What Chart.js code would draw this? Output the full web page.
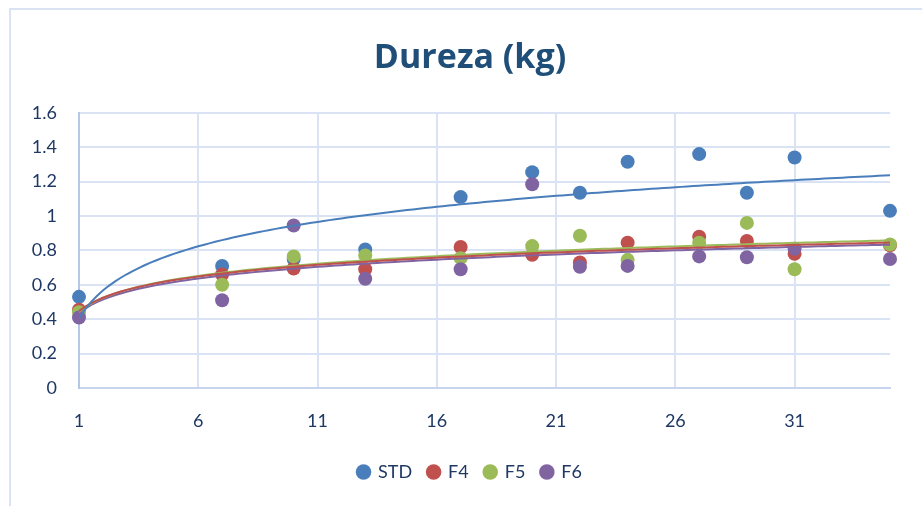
<!DOCTYPE html>
<html>
<head>
<meta charset="utf-8">
<script src="https://cdn.jsdelivr.net/npm/chart.js@4.4.1/dist/chart.umd.min.js"></script>
<style>
    html, body { margin: 0; padding: 0; background: #fff; overflow: hidden; }
    #frame {
        position: absolute; left: 9px; top: 8px; width: 1000px; height: 600px;
        border: 2px solid #d9e3f3;
    }
    #wrap { position: absolute; left: 0; top: 0; width: 922px; height: 506px; }
</style>
</head>
<body>
<div id="frame"></div>
<div id="wrap"><canvas id="durChart"></canvas></div>
<script>
/* ============================================
   DATA
============================================ */
const days = [1, 7, 10, 13, 17, 20, 22, 24, 27, 29, 31, 35];
const std = [0.53, 0.71, 0.75, 0.805, 1.11, 1.255, 1.135, 1.315, 1.36, 1.135, 1.34, 1.03];
const f4  = [0.455, 0.66, 0.695, 0.69, 0.82, 0.775, 0.73, 0.845, 0.88, 0.855, 0.78, 0.83];
const f5  = [0.44, 0.60, 0.765, 0.77, 0.755, 0.825, 0.885, 0.745, 0.845, 0.96, 0.69, 0.835];
const f6  = [0.41, 0.51, 0.945, 0.635, 0.69, 1.185, 0.705, 0.71, 0.765, 0.76, 0.81, 0.75];
const xTicks = [1, 6, 11, 16, 21, 26, 31];
const yTicks = [0, 0.2, 0.4, 0.6, 0.8, 1, 1.2, 1.4, 1.6];

const seriesNames = ['STD', 'F4', 'F5', 'F6'];
const seriesVals = [std, f4, f5, f6];
const colors = ['#4a7ebb', '#c0504d', '#9bbb59', '#8064a2'];

/* ============================================
   LOG TRENDLINE (y = a ln x + b)
============================================ */
function logFit(xs, ys) {
    const n = xs.length;
    let sx = 0, sy = 0, sxx = 0, sxy = 0;
    xs.forEach((x, i) => {
        const lx = Math.log(x);
        sx += lx; sy += ys[i]; sxx += lx * lx; sxy += lx * ys[i];
    });
    const a = (n * sxy - sx * sy) / (n * sxx - sx * sx);
    const b = (sy - a * sx) / n;
    const pts = [];
    for (let x = days[0]; x <= days[days.length - 1] + 1e-9; x += 0.25) {
        pts.push({ x: x, y: a * Math.log(x) + b });
    }
    return pts;
}

// title + legend are centred on the whole frame, not just the plot
const shiftBoxes = {
    id: 'shiftBoxes',
    afterLayout(chart) {
        [chart.titleBlock, chart.legend].forEach(b => {
            if (!b) return;
            b.left += 25;
            b.right += 25;
        });
    }
};

/* ============================================
   CHART
============================================ */
function initChart() {
    const axisFont = { family: "Lato, 'Open Sans', sans-serif", size: 18 };
    const txt = '#1f3864';

    const datasets = [];
    seriesVals.forEach((vals, i) => {
        datasets.push({
            label: seriesNames[i],
            data: days.map((d, j) => ({ x: d, y: vals[j] })),
            backgroundColor: colors[i],
            borderColor: colors[i],
            pointRadius: 7,
            pointHoverRadius: 7,
            pointBorderWidth: 0,
            showLine: false,
            clip: false,
            order: 5 - i
        });
    });
    seriesVals.forEach((vals, i) => {
        datasets.push({
            label: 'trend',
            data: logFit(days, vals),
            borderColor: colors[i],
            borderWidth: 2,
            pointRadius: 0,
            showLine: true,
            fill: false,
            tension: 0,
            order: 0
        });
    });

    new Chart(document.getElementById('durChart').getContext('2d'), {
        type: 'scatter',
        data: { datasets },
        plugins: [shiftBoxes],
        options: {
            responsive: true,
            maintainAspectRatio: false,
            animation: false,
            layout: { padding: { left: 0, right: 32, top: 0, bottom: 15 } },
            plugins: {
                title: {
                    display: true,
                    text: 'Dureza (kg)',
                    color: '#1f4e79',
                    font: { family: "'Open Sans', Lato, sans-serif", size: 34, weight: 'bold' },
                    padding: { top: 38, bottom: 34 }
                },
                legend: {
                    position: 'bottom',
                    labels: {
                        filter: item => item.text !== 'trend',
                        sort: (a, b) => a.datasetIndex - b.datasetIndex,
                        usePointStyle: true,
                        pointStyle: 'circle',
                        boxWidth: 11,
                        boxHeight: 11,
                        padding: 16,
                        color: txt,
                        font: axisFont
                    }
                },
                tooltip: { enabled: false }
            },
            scales: {
                x: {
                    type: 'linear',
                    min: days[0],
                    max: days[days.length - 1],
                    afterBuildTicks: s => { s.ticks = xTicks.map(v => ({ value: v })); },
                    afterFit: s => { s.height = 59; },
                    grid: { color: '#d9e3f3', lineWidth: 2, drawTicks: false },
                    border: { color: '#c5d5ee', width: 2 },
                    ticks: { color: txt, font: axisFont, padding: 22, maxRotation: 0 }
                },
                y: {
                    min: 0,
                    max: 1.6,
                    afterBuildTicks: s => { s.ticks = yTicks.map(v => ({ value: v })); },
                    afterFit: s => { s.width = 79; },
                    grid: { color: '#d9e3f3', lineWidth: 2, drawTicks: false },
                    border: { color: '#b4c7e7', width: 2 },
                    ticks: {
                        color: txt, font: axisFont, padding: 22,
                        callback: v => String(+v.toFixed(1))
                    }
                }
            }
        }
    });
}

document.addEventListener('DOMContentLoaded', initChart);
</script>
</body>
</html>
